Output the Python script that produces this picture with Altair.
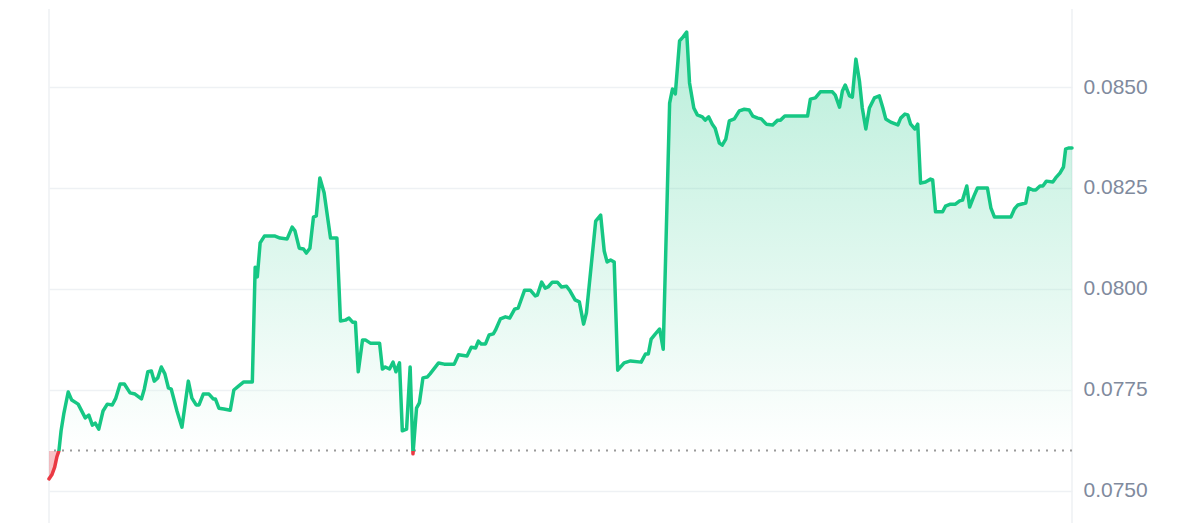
import altair as alt
import pandas as pd

# time in minutes since window start
minutes = [
    0, 4, 8, 11, 14, 17, 21, 27, 32, 41,
    51, 56, 61, 65, 70, 76, 82, 89, 94, 100,
    106, 114, 121, 130, 134, 139, 144, 148, 153, 158,
    163, 168, 172, 180, 187, 196, 201, 207, 211, 217,
    225, 231, 234, 239, 246, 255, 260, 267, 274, 283,
    286, 290, 293, 297, 303, 318, 325, 335, 342, 346,
    352, 358, 362, 367, 372, 376, 381, 387, 396, 405,
    410, 417, 422, 427, 431, 435, 441, 445, 452, 465,
    469, 473, 479, 484, 488, 493, 497, 503, 508, 512,
    517, 521, 526, 532, 536, 548, 556, 570, 576, 588,
    594, 600, 604, 608, 614, 619, 625, 628, 635, 642,
    648, 655, 660, 669, 677, 684, 687, 693, 698, 702,
    708, 715, 721, 728, 733, 740, 746, 752, 756, 769,
    776, 781, 785, 790, 795, 800, 809, 818, 833, 839,
    843, 847, 853, 859, 864, 873, 877, 881, 887, 892,
    897, 901, 907, 912, 919, 923, 928, 933, 937, 943,
    947, 952, 957, 964, 971, 978, 985, 990, 997, 1002,
    1009, 1018, 1025, 1029, 1035, 1067, 1071, 1078, 1085, 1102,
    1106, 1112, 1116, 1120, 1126, 1130, 1135, 1140, 1144, 1149,
    1154, 1161, 1168, 1173, 1177, 1184, 1194, 1198, 1204, 1208,
    1212, 1218, 1222, 1226, 1233, 1240, 1243, 1247, 1257, 1261,
    1268, 1275, 1281, 1285, 1291, 1295, 1301, 1306, 1320, 1325,
    1330, 1353, 1358, 1363, 1374, 1378, 1384, 1388, 1394, 1398,
    1403, 1412, 1416, 1422, 1427, 1430, 1434, 1439,
]

prices = [
    0.07530, 0.07540, 0.07559, 0.07584, 0.07600, 0.07649, 0.07693, 0.07745, 0.07725, 0.07715,
    0.07681, 0.07688, 0.07663, 0.07668, 0.07653, 0.07698, 0.07715, 0.07713, 0.07730, 0.07765,
    0.07765, 0.07743, 0.07740, 0.07728, 0.07752, 0.07795, 0.07797, 0.07772, 0.07780, 0.07807,
    0.07790, 0.07755, 0.07752, 0.07698, 0.07658, 0.07772, 0.07730, 0.07713, 0.07713, 0.07740,
    0.07740, 0.07728, 0.07728, 0.07705, 0.07703, 0.07700, 0.07750, 0.07760, 0.07770, 0.07770,
    0.07770, 0.08054, 0.08030, 0.08114, 0.08131, 0.08131, 0.08126, 0.08124, 0.08153, 0.08144,
    0.08101, 0.08099, 0.08089, 0.08101, 0.08178, 0.08181, 0.08275, 0.08238, 0.08126, 0.08126,
    0.07921, 0.07923, 0.07928, 0.07918, 0.07918, 0.07795, 0.07874, 0.07874, 0.07866, 0.07866,
    0.07802, 0.07807, 0.07802, 0.07819, 0.07795, 0.07817, 0.07649, 0.07653, 0.07807, 0.07592,
    0.07705, 0.07718, 0.07780, 0.07782, 0.07790, 0.07817, 0.07814, 0.07814, 0.07837, 0.07834,
    0.07856, 0.07854, 0.07871, 0.07864, 0.07864, 0.07886, 0.07889, 0.07898, 0.07926, 0.07931,
    0.07928, 0.07950, 0.07953, 0.07997, 0.07997, 0.07983, 0.07985, 0.08017, 0.08002, 0.08005,
    0.08017, 0.08017, 0.08005, 0.08007, 0.07995, 0.07973, 0.07968, 0.07913, 0.07941, 0.08168,
    0.08183, 0.08094, 0.08067, 0.08072, 0.08067, 0.07799, 0.07817, 0.07822, 0.07819, 0.07839,
    0.07839, 0.07876, 0.07889, 0.07901, 0.07851, 0.08460, 0.08495, 0.08483, 0.08614, 0.08624,
    0.08636, 0.08510, 0.08448, 0.08431, 0.08426, 0.08418, 0.08426, 0.08408, 0.08398, 0.08361,
    0.08356, 0.08371, 0.08416, 0.08421, 0.08441, 0.08445, 0.08443, 0.08428, 0.08423, 0.08421,
    0.08408, 0.08406, 0.08418, 0.08418, 0.08428, 0.08428, 0.08470, 0.08473, 0.08488, 0.08488,
    0.08480, 0.08450, 0.08490, 0.08505, 0.08478, 0.08475, 0.08569, 0.08515, 0.08448, 0.08396,
    0.08448, 0.08473, 0.08478, 0.08448, 0.08421, 0.08413, 0.08406, 0.08423, 0.08433, 0.08431,
    0.08408, 0.08396, 0.08408, 0.08262, 0.08265, 0.08272, 0.08270, 0.08191, 0.08191, 0.08205,
    0.08210, 0.08210, 0.08218, 0.08220, 0.08255, 0.08203, 0.08230, 0.08250, 0.08250, 0.08200,
    0.08178, 0.08178, 0.08198, 0.08208, 0.08213, 0.08250, 0.08245, 0.08245, 0.08255, 0.08255,
    0.08267, 0.08265, 0.08275, 0.08287, 0.08302, 0.08346, 0.08349, 0.08349,
]

baseline = 0.0760
y_ticks = [0.0750, 0.0775, 0.0800, 0.0825, 0.0850]

df = pd.DataFrame({"t": minutes[:len(prices)], "price": prices[:len(minutes)]})

GREEN = "#16c784"
RED = "#ea3943"

pmax, pmin = max(prices), min(prices)
off = (pmax - baseline) / (pmax - pmin)

x_scale = alt.Scale(domain=[0, 1439], nice=False, zero=False)
y_scale = alt.Scale(domain=[0.0742079, 0.0869307], nice=False, zero=False)

y_axis = alt.Axis(
    orient="right", values=y_ticks, format=".4f", title=None,
    ticks=False, domain=False, labelPadding=11, labelFontSize=21,
    labelFont="Liberation Sans", labelColor="#808a9d", labelBaseline="middle",
    grid=True, gridColor="#eef1f4", gridWidth=1.3,
)

base = alt.Chart(df)

area = base.mark_area(
    fill=alt.Gradient(
        gradient="linear", x1=0, y1=0, x2=0, y2=1,
        stops=[
            alt.GradientStop(color=GREEN, offset=0),
            alt.GradientStop(color="#ffffff", offset=off),
            alt.GradientStop(color=RED, offset=off),
            alt.GradientStop(color=RED, offset=1),
        ],
    ),
    fillOpacity=0.3,
).encode(
    x=alt.X("t:Q", scale=x_scale, axis=None),
    y=alt.Y("price:Q", scale=y_scale, axis=y_axis),
    y2=alt.datum(baseline),
)

vrules = alt.Chart(pd.DataFrame({"t": [0, 1439]})).mark_rule(
    color="#eef0f3", strokeWidth=1.5
).encode(x=alt.X("t:Q", scale=x_scale, axis=None))

base_rule = alt.Chart(pd.DataFrame({"b": [baseline]})).mark_rule(
    color="#9a9a9a", strokeWidth=2, strokeDash=[2, 6]
).encode(y=alt.Y("b:Q", scale=y_scale, axis=y_axis))

line = base.mark_line(
    stroke=alt.Gradient(
        gradient="linear", x1=0, y1=0, x2=0, y2=1,
        stops=[
            alt.GradientStop(color=GREEN, offset=0),
            alt.GradientStop(color=GREEN, offset=off),
            alt.GradientStop(color=RED, offset=off),
            alt.GradientStop(color=RED, offset=1),
        ],
    ),
    strokeWidth=3.5, strokeJoin="round", strokeCap="round",
).encode(
    x=alt.X("t:Q", scale=x_scale, axis=None),
    y=alt.Y("price:Q", scale=y_scale, axis=y_axis),
)

chart = alt.layer(vrules, area, base_rule, line).properties(
    width=1023, height=514,
    padding={"left": 39, "top": 0, "right": 0, "bottom": 0},
    background="white",
).configure_view(stroke=None)

chart.save("out.html", embed_options={"renderer": "svg", "actions": False})
